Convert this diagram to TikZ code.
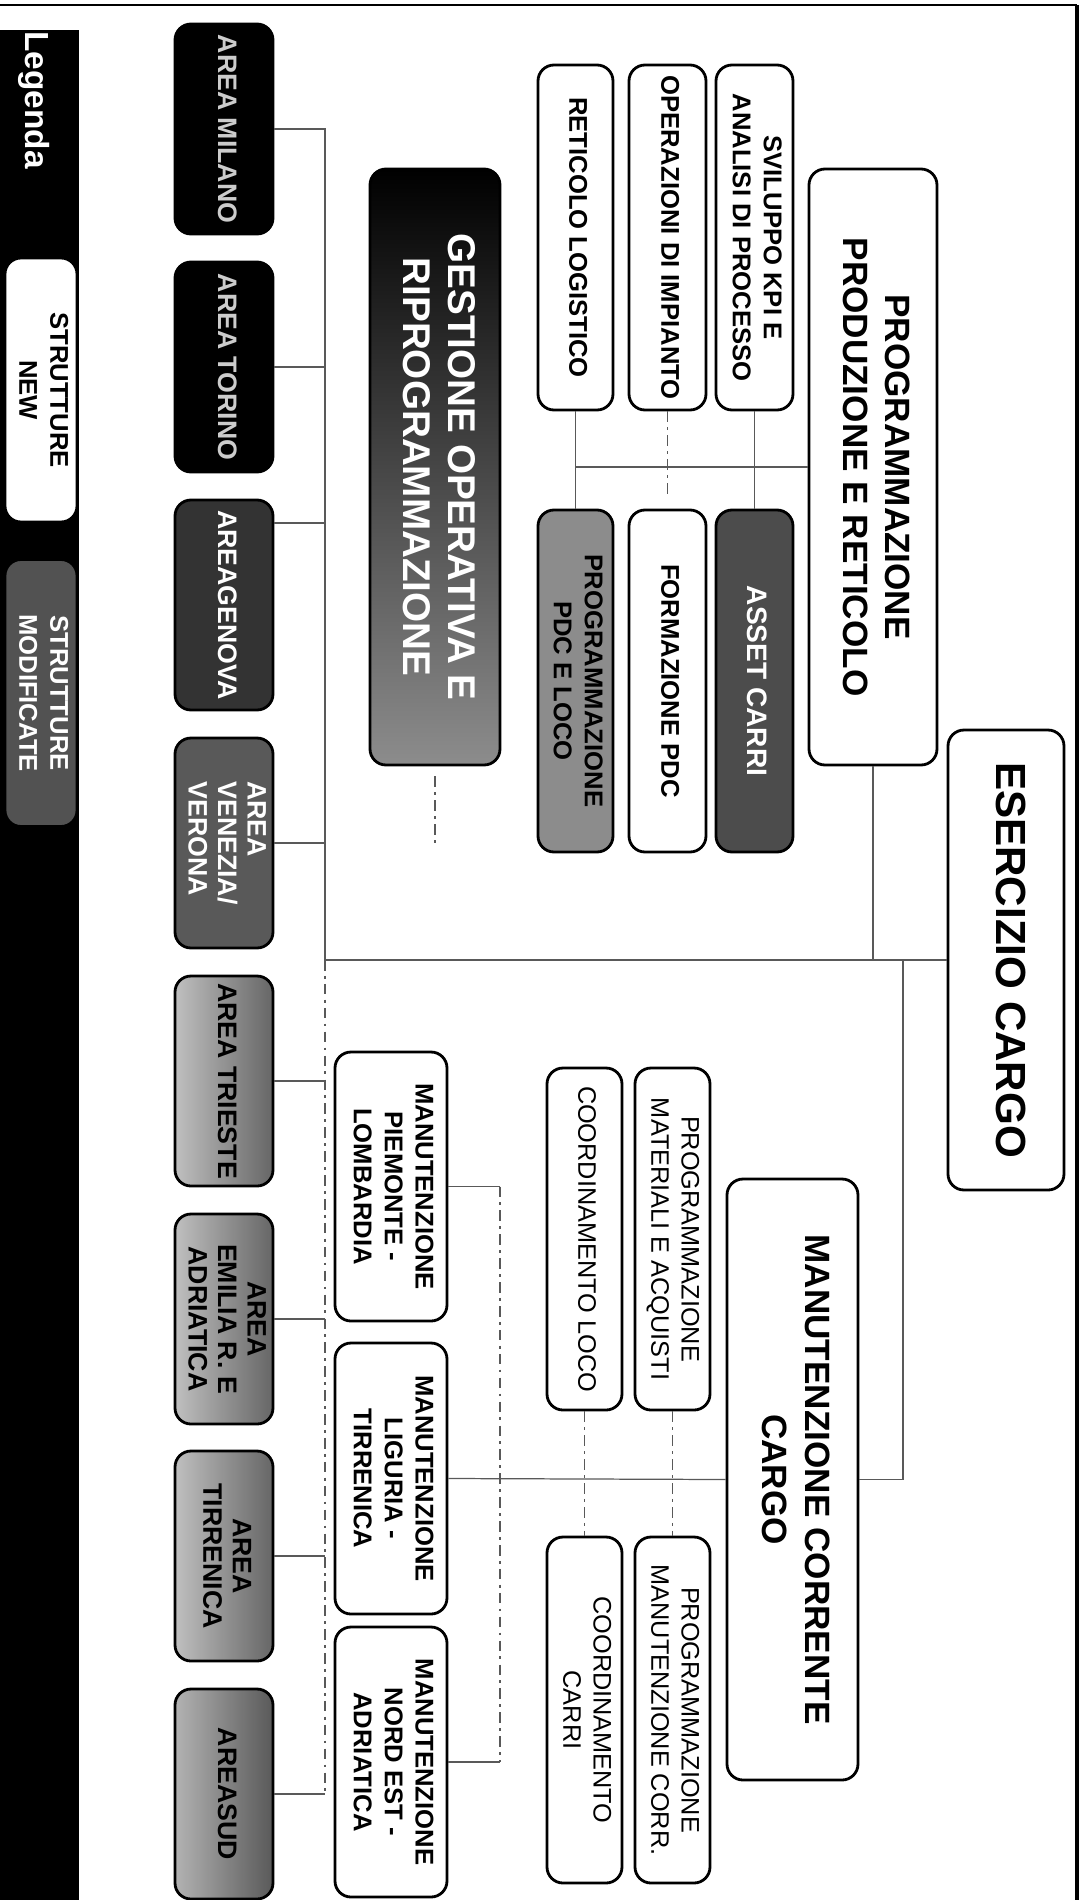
\documentclass[tikz,border=0pt]{standalone}
\usepackage{fontspec}
\setmainfont{Liberation Sans}
\usepackage{graphicx}

\newcommand{\ruota}[2][c]{\rotatebox{-90}{\begin{tabular}{@{}#1@{}}#2\end{tabular}}}

\begin{document}
\begin{tikzpicture}[%
      x=0.1mm, y=-0.1mm,
      ufficio/.style 2 args={draw=black, line width=0.8pt, rounded corners=1.6mm,
        fill=white, inner sep=0pt, minimum width=#1, minimum height=#2},
      titolo/.style={font=\bfseries\fontsize{10}{12}\selectfont},
      voce/.style={font=\bfseries\fontsize{7.3}{8.8}\selectfont},
      voceleggera/.style={font=\fontsize{7.2}{8.6}\selectfont},
      areabox/.style={ufficio={9.8mm}{21mm}, font=\bfseries\fontsize{7.6}{8.4}\selectfont},
      conn/.style={draw=black!65, line width=0.35pt},
      tratt/.style={conn, dash pattern=on 3pt off 1.5pt on 0.8pt off 1.5pt},
      ]
      \useasboundingbox (0,0) rectangle (1081,1900);

      % cornice e legenda
      \fill[black] (0,30) rectangle (79,1900);
      \draw[line width=0.6pt] (0,5) -- (1077,5);
      \draw[line width=0.9pt] (1077,5) -- (1077,1900);

      \node[text=white, font=\bfseries\fontsize{9.5}{11}\selectfont] (legenda) at (33,100) {\ruota{Legenda}};
      \node[ufficio={7.2mm}{26.4mm}, voce] (nuove) at (41,390) {\ruota{STRUTTURE\\NEW}};
      \node[ufficio={7.2mm}{26.7mm}, voce, fill=black!68, text=white] (modificate) at (41,693) {\ruota{STRUTTURE\\MODIFICATE}};

      % aree territoriali
      \node[areabox, fill=black, text=black!20] (milano) at (224,129) {\ruota{AREA MILANO}};
      \node[areabox, fill=black, text=black!20] (torino) at (224,367) {\ruota{AREA TORINO}};
      \node[areabox, fill=black!80, text=white] (genova) at (224,605) {\ruota{AREAGENOVA}};
      \node[areabox, fill=black!65, text=white] (venezia) at (224,843) {\ruota[l]{AREA\\VENEZIA/\\VERONA}};
      \node[areabox, left color=black!25, right color=black!60] (trieste) at (224,1081) {\ruota{AREA TRIESTE}};
      \node[areabox, left color=black!25, right color=black!60] (emilia) at (224,1319) {\ruota{AREA\\EMILIA R. E\\ADRIATICA}};
      \node[areabox, left color=black!25, right color=black!60] (tirrenica) at (224,1556) {\ruota{AREA\\TIRRENICA}};
      \node[areabox, left color=black!30, right color=black!65] (sud) at (224,1794) {\ruota{AREASUD}};

      % programmazione produzione e reticolo
      \node[ufficio={13mm}{59.6mm}, font=\bfseries\fontsize{11}{13}\selectfont, top color=black, bottom color=black!45, text=white] (gestione) at (435,467) {\ruota{GESTIONE OPERATIVA E\\RIPROGRAMMAZIONE}};
      \node[ufficio={7.5mm}{34.5mm}, voce] (reticolo) at (575.5,237.5) {\ruota{RETICOLO LOGISTICO}};
      \node[ufficio={7.7mm}{34.5mm}, voce] (operazioni) at (667.5,237.5) {\ruota{OPERAZIONI DI IMPIANTO}};
      \node[ufficio={7.7mm}{34.5mm}, voce] (sviluppo) at (754.5,237.5) {\ruota{SVILUPPO KPI E\\ANALISI DI PROCESSO}};
      \node[ufficio={7.5mm}{34.2mm}, voce, fill=black!45] (pdc) at (575.5,681) {\ruota{PROGRAMMAZIONE\\PDC E LOCO}};
      \node[ufficio={7.7mm}{34.2mm}, voce] (formazione) at (667.5,681) {\ruota{FORMAZIONE PDC}};
      \node[ufficio={7.7mm}{34.2mm}, font=\bfseries\fontsize{8}{9.6}\selectfont, fill=black!70, text=white] (asset) at (754.5,681) {\ruota{ASSET CARRI}};
      \node[ufficio={12.8mm}{59.6mm}, titolo] (programmazione) at (873,467) {\ruota{PROGRAMMAZIONE\\PRODUZIONE E RETICOLO}};

      \node[ufficio={11.6mm}{46mm}, font=\bfseries\fontsize{12}{14}\selectfont] (esercizio) at (1006,960) {\ruota{ESERCIZIO CARGO}};

      % manutenzione corrente cargo
      \node[ufficio={13.1mm}{60.1mm}, titolo] (corrente) at (792.5,1479.5) {\ruota{MANUTENZIONE CORRENTE\\CARGO}};
      \node[ufficio={7.5mm}{34.2mm}, voceleggera] (coordloco) at (584.5,1239) {\ruota{COORDINAMENTO LOCO}};
      \node[ufficio={7.5mm}{34.2mm}, voceleggera] (materiali) at (672.5,1239) {\ruota{PROGRAMMAZIONE\\MATERIALI E ACQUISTI}};
      \node[ufficio={7.5mm}{34.6mm}, voceleggera] (coordcarri) at (584.5,1710) {\ruota{COORDINAMENTO\\CARRI}};
      \node[ufficio={7.5mm}{34.6mm}, voceleggera] (manutcorr) at (672.5,1710) {\ruota{PROGRAMMAZIONE\\MANUTENZIONE CORR.}};
      \node[ufficio={11.2mm}{26.9mm}, voce] (piemonte) at (391,1186.5) {\ruota{MANUTENZIONE\\PIEMONTE -\\LOMBARDIA}};
      \node[ufficio={11.2mm}{27.1mm}, voce] (liguria) at (391,1478.5) {\ruota{MANUTENZIONE\\LIGURIA -\\TIRRENICA}};
      \node[ufficio={11.2mm}{27mm}, voce] (nordest) at (391,1762) {\ruota{MANUTENZIONE\\NORD EST -\\ADRIATICA}};

      % collegamenti
      \coordinate (snodo) at (325,960);
      \coordinate (snodocorr) at (903,960);
      \coordinate (snodoman) at (500,1479);

      \draw[conn] (esercizio.west) -- (snodo);
      \draw[conn] (programmazione.south) -- (programmazione.south |- snodo);
      \draw[conn] (snodocorr) |- (corrente.east);

      \draw[conn] (snodo) |- (milano.east);
      \draw[conn] (snodo) |- (torino.east);
      \draw[conn] (snodo) |- ([yshift=8.2mm]genova.east);
      \draw[conn] (snodo) |- (venezia.east);
      \draw[tratt] (snodo) -- (snodo |- sud.east);
      \draw[conn] (trieste.east) -- (trieste.east -| snodo);
      \draw[conn] (emilia.east) -- (emilia.east -| snodo);
      \draw[conn] (tirrenica.east) -- (tirrenica.east -| snodo);
      \draw[conn] (sud.east) -- (sud.east -| snodo);

      \draw[conn] (reticolo.south) -- (pdc.north);
      \draw[conn] (sviluppo.south) -- (asset.north);
      \draw[conn] (programmazione.west) -- (programmazione.west -| reticolo.south);
      \draw[tratt, shorten >=1.3mm] (operazioni.south) -- (formazione.north);
      \draw[tratt] ([yshift=-1mm]gestione.south) -- ++(0,67);

      \draw[conn] (corrente.west) -- (liguria.east);
      \draw[tratt] (piemonte.east -| snodoman) -- (nordest.east -| snodoman);
      \draw[conn] (piemonte.east) -- (piemonte.east -| snodoman);
      \draw[conn] (nordest.east) -- (nordest.east -| snodoman);
      \draw[tratt] (coordloco.south) -- (coordcarri.north);
      \draw[tratt] (materiali.south) -- (manutcorr.north);
\end{tikzpicture}
\end{document}
